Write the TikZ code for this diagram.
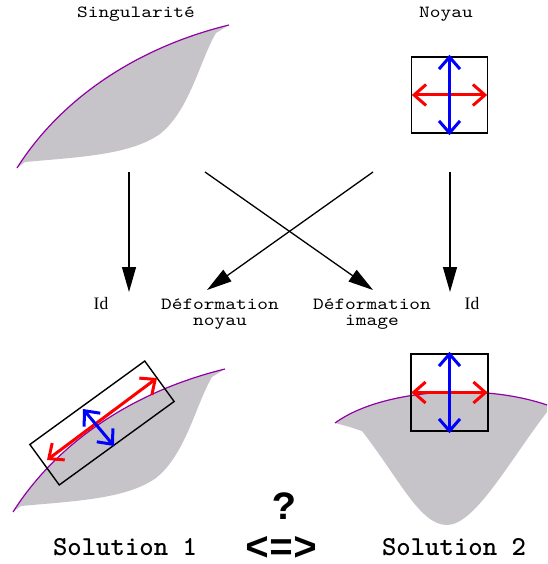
\documentclass[tikz,border=0pt]{standalone}
\usepackage{fontspec}
\setmainfont{Liberation Serif}
\newfontfamily\ttbold{lmmonolt10-bold}[Extension=.otf]
\newfontfamily\ttwide{lmmono10-regular}[Extension=.otf, FakeStretch=1.2]
\newfontfamily\ttheavy{Liberation Mono}
\usetikzlibrary{arrows.meta}
\definecolor{shapegray}{RGB}{198,196,200}
\definecolor{curvepurple}{RGB}{145,0,165}
\definecolor{arred}{RGB}{255,0,0}
\definecolor{arblue}{RGB}{0,0,255}
\tikzset{
  sing/.pic={
    \fill[shapegray] (17,168) .. controls (60,100) and (135,48) .. (229,25)
      -- (216,33) .. controls (200,60) and (190,110) .. (160,134)
      .. controls (130,155) and (80,157) .. (25,162) -- cycle;
    \draw[curvepurple, line width=1.2pt] (17,168) .. controls (60,100) and (135,48) .. (229,25);
  },
  kbox/.style={draw=black, line width=1.4pt, minimum size=76pt, inner sep=0pt},
  redarr/.style={draw=arred, line width=3pt, {Straight Barb[length=12pt,width=21pt]}-{Straight Barb[length=12pt,width=21pt]}},
  bluearr/.style={draw=arblue, line width=3pt, {Straight Barb[length=12pt,width=21pt]}-{Straight Barb[length=12pt,width=21pt]}},
  maparr/.style={draw=black, line width=1.3pt, -{Triangle[length=25pt,width=14pt]}},
  lab/.style={font=\ttwide\fontsize{17}{16}\selectfont, align=center, inner sep=0pt},
  idlab/.style={font=\rmfamily\fontsize{17.5}{16}\selectfont, inner sep=0pt},
  sol/.style={font=\ttbold\fontsize{27.4}{24}\selectfont, inner sep=0pt},
  big/.style={font=\ttheavy\bfseries\fontsize{40}{40}\selectfont, inner sep=0pt}
}
\begin{document}
\begin{tikzpicture}[x=1pt,y=-1pt]
\useasboundingbox (0,0) rectangle (547,564);
% titles
\node[lab] (tsing) at (136,14) {Singularité};
\node[lab] (tnoy) at (446,14) {Noyau};
% top left shape
\pic at (0,0) {sing};
% top right kernel box
\node[kbox] (noy) at (449.5,95) {};
\draw[redarr] ([xshift=1pt]noy.west) -- ([xshift=-1pt]noy.east);
\draw[bluearr] ([yshift=1.5pt]noy.north) -- ([yshift=-1.5pt]noy.south);
% map arrows
\coordinate (s1) at (129,172);
\coordinate (s2) at (205,172);
\coordinate (s3) at (373,172);
\coordinate (s4) at (450,172);
\coordinate (e1) at (129,292);
\coordinate (e2) at (373,290);
\coordinate (e3) at (207,290);
\coordinate (e4) at (450,292);
\draw[maparr] (s1) -- (e1);
\draw[maparr] (s2) -- (e2);
\draw[maparr] (s3) -- (e3);
\draw[maparr] (s4) -- (e4);
% labels
\node[idlab, anchor=base] (id1) at (101,309) {Id};
\node[lab, anchor=base] (defn) at (220,325) {Déformation\\noyau};
\node[lab, anchor=base] (defi) at (372,325) {Déformation\\image};
\node[idlab, anchor=base] (id2) at (472,309) {Id};
% bottom left: solution 1
\pic at (-4,344) {sing};
\node[draw=black, line width=1.4pt, rotate=36, minimum width=142pt, minimum height=50pt, inner sep=0pt] (box1) at (102,423) {};
\coordinate (r1a) at (47,460);
\coordinate (r1b) at (157,378);
\coordinate (b1a) at (83,409);
\coordinate (b1b) at (114,446);
\draw[redarr] (r1a) -- (r1b);
\draw[bluearr] (b1a) -- (b1b);
% bottom right: solution 2
\fill[shapegray] (335,423) .. controls (380,390) and (480,382) .. (547,405)
  -- (547,412) .. controls (510,460) and (475,525) .. (447,525)
  .. controls (420,525) and (400,480) .. (362,431) -- (350,427) -- cycle;
\draw[curvepurple, line width=1.2pt] (335,423) .. controls (380,390) and (480,382) .. (547,405);
\node[kbox, minimum size=77pt] (noy2) at (449.5,392.5) {};
\draw[redarr] ([xshift=1pt]noy2.west) -- ([xshift=-1pt]noy2.east);
\draw[bluearr] ([yshift=1.5pt]noy2.north) -- ([yshift=-1.5pt]noy2.south);
% bottom texts
\node[sol] (sol1) at (125,547) {Solution 1};
\node[sol] (sol2) at (454,547) {Solution 2};
\node[big] (q) at (284,506) {?};
\node[big, anchor=base] (eq) at (282,560) {<=>};
\end{tikzpicture}
\end{document}
